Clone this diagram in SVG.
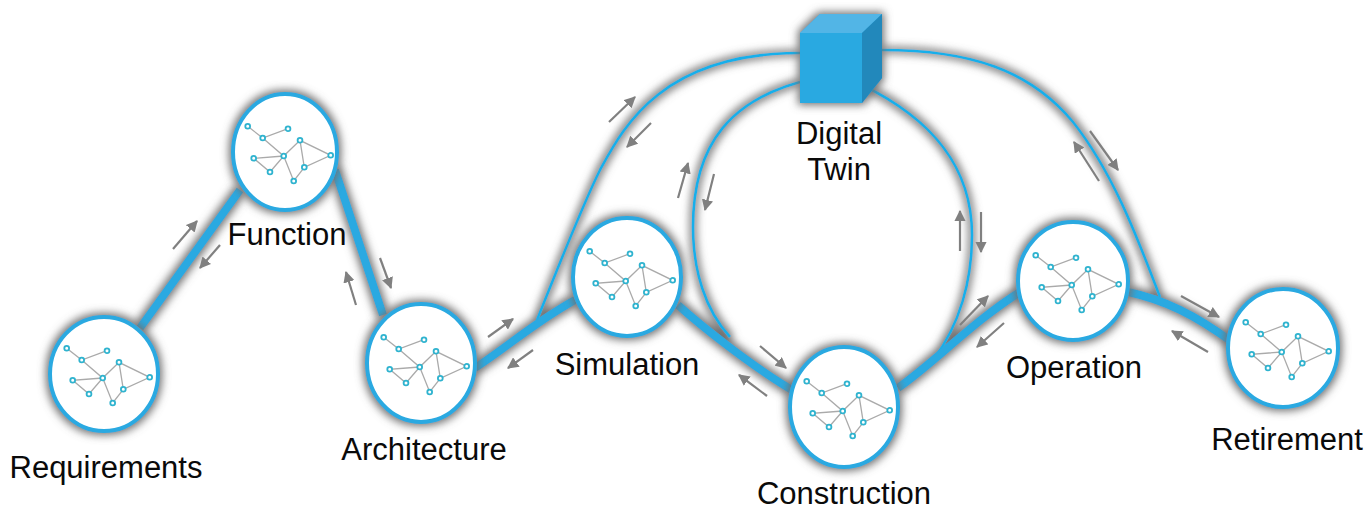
<svg xmlns="http://www.w3.org/2000/svg" width="1367" height="509" viewBox="0 0 1367 509">
<style>
text{font-family:"Liberation Sans",Arial,sans-serif;font-size:31px;fill:#0a0a0a;text-anchor:middle}
.thick{fill:none;stroke:#29a9e1;stroke-width:8}
.thin{fill:none;stroke:#16afea;stroke-width:2.6}
.arrow{fill:none;stroke:#808080;stroke-width:2.2;marker-end:url(#ah)}
.disc{fill:#fff;stroke:#29a9e1;stroke-width:4}
.net{fill:none;stroke:#aaa;stroke-width:1.3}
.dot{fill:#fff;stroke:#2fb3cf;stroke-width:1.8}
.sh{filter:url(#glow)}
</style>
<defs>
<filter id="glow" filterUnits="userSpaceOnUse" x="0" y="0" width="1367" height="509">
<feMorphology in="SourceAlpha" operator="dilate" radius="1.5" result="d"/>
<feGaussianBlur in="d" stdDeviation="4" result="b"/>
<feFlood flood-color="#707070"/>
<feComposite in2="b" operator="in" result="s"/>
<feMerge><feMergeNode in="s"/><feMergeNode in="SourceGraphic"/></feMerge>
</filter>
<marker id="ah" viewBox="0 0 10 10" refX="9" refY="5" markerWidth="5.2" markerHeight="5.2" orient="auto" markerUnits="strokeWidth">
<path d="M0 0L10 5L0 10z" fill="#808080"/>
</marker>
<g id="network">
<path class="net" d="M-37.3-25.7L-22.3-14L3-23.3M-22.3-14L-1.3 4L15-11.7L45.7 3.3L19.3 15.3L15-11.7M-1.3 4L-31.3 6.3L-15 20L-1.3 4L8.7 29L19.3 15.3"/>
<g class="dot">
<circle cx="-37.3" cy="-25.7" r="2.4"/><circle cx="-22.3" cy="-14" r="2.4"/><circle cx="3" cy="-23.3" r="2.4"/><circle cx="15" cy="-11.7" r="2.4"/><circle cx="-1.3" cy="4" r="2.4"/><circle cx="-31.3" cy="6.3" r="2.4"/><circle cx="-15" cy="20" r="2.4"/><circle cx="8.7" cy="29" r="2.4"/><circle cx="19.3" cy="15.3" r="2.4"/><circle cx="45.7" cy="3.3" r="2.4"/>
</g>
</g>
</defs>
<g id="connectors">
<g class="sh">
<path class="thin" d="M537 320C553 280 582 206 600 170C622 130 660 53 800 53"/>
<path class="thin" d="M800 82C735 100 693 140 693 227C693 270 705 310 730 337"/>
<path class="thin" d="M862 85C930 118 972 165 972 235C972 280 960 325 933 360"/>
<path class="thin" d="M882 50C970 50 1030 70 1073 122C1115 175 1140 245 1160 297"/>
<path class="thick" d="M140 328L240 190"/>
<path class="thick" d="M335 170L383 315"/>
<path class="thick" d="M475 368C510 345 535 322 575 300"/>
<path class="thick" d="M678 305C700 325 750 365 792 390"/>
<path class="thick" d="M898 388C935 362 975 320 1020 292"/>
<path class="thick" d="M1128 292C1165 300 1195 315 1232 342"/>
</g>
<path class="arrow" d="M173 249L197 221"/>
<path class="arrow" d="M220 245L200 268"/>
<path class="arrow" d="M356 305L346 272"/>
<path class="arrow" d="M380 258L391 288"/>
<path class="arrow" d="M488 337L513 319"/>
<path class="arrow" d="M533 350L508 368"/>
<path class="arrow" d="M609 122L635 97"/>
<path class="arrow" d="M651 123L627 147"/>
<path class="arrow" d="M678 198L688 163"/>
<path class="arrow" d="M714 174L705 210"/>
<path class="arrow" d="M760 346L786 368"/>
<path class="arrow" d="M767 396L739 375"/>
<path class="arrow" d="M960 251L960 211"/>
<path class="arrow" d="M981 212L981 252"/>
<path class="arrow" d="M960 325L988 296"/>
<path class="arrow" d="M1004 323L977 347"/>
<path class="arrow" d="M1099 181L1074 142"/>
<path class="arrow" d="M1090 131L1118 170"/>
<path class="arrow" d="M1181 296L1219 317"/>
<path class="arrow" d="M1208 352L1172 331"/>
</g>
<g id="twin">
<g class="sh">
<path d="M800 33L820 14H882V78L862 103H800z" fill="#29a9e1"/>
</g>
<path d="M800 33L820 14H882L862 33z" fill="#52b5e6"/>
<path d="M800 33H862V103H800z" fill="#29a9e1"/>
<path d="M862 33L882 14V78L862 103z" fill="#2288bb"/>
<text x="839" y="144">Digital</text>
<text x="839" y="180">Twin</text>
</g>
<g id="requirements"><ellipse class="disc sh" cx="104" cy="374" rx="54" ry="57"/><use href="#network" x="104" y="374"/><text x="106" y="478">Requirements</text></g>
<g id="function"><ellipse class="disc sh" cx="285" cy="152" rx="52" ry="58"/><use href="#network" x="285" y="152"/><text x="287" y="245">Function</text></g>
<g id="architecture"><ellipse class="disc sh" cx="421" cy="363" rx="54" ry="59"/><use href="#network" x="421" y="363"/><text x="424" y="460">Architecture</text></g>
<g id="simulation"><ellipse class="disc sh" cx="627" cy="277" rx="54" ry="59"/><use href="#network" x="627" y="277"/><text x="627" y="375">Simulation</text></g>
<g id="construction"><ellipse class="disc sh" cx="844" cy="407" rx="54" ry="60"/><use href="#network" x="844" y="407"/><text x="844" y="504">Construction</text></g>
<g id="operation"><ellipse class="disc sh" cx="1073" cy="281" rx="55" ry="59"/><use href="#network" x="1073" y="281"/><text x="1074" y="378">Operation</text></g>
<g id="retirement"><ellipse class="disc sh" cx="1283" cy="348" rx="55" ry="59"/><use href="#network" x="1283" y="348"/><text x="1287" y="450">Retirement</text></g>
</svg>
